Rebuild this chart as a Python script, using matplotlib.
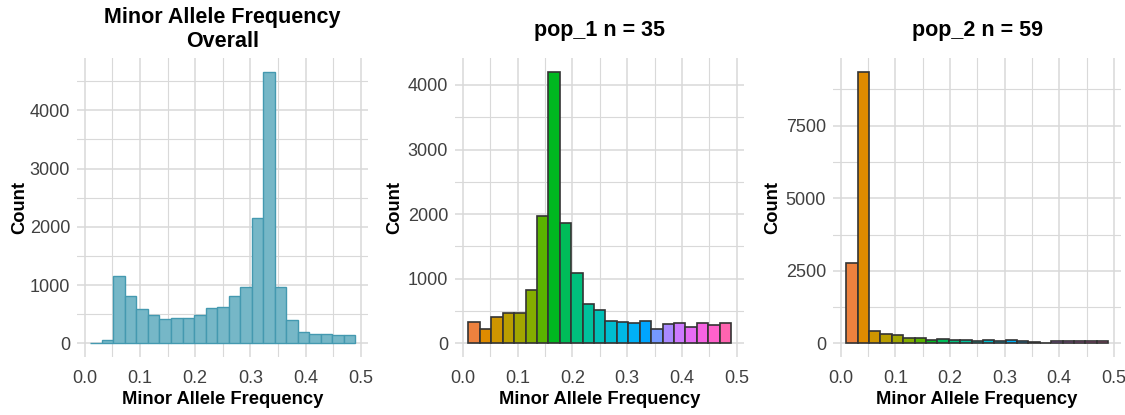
import matplotlib
matplotlib.use("Agg")
import matplotlib.pyplot as plt
import numpy as np

plt.rcParams['font.family'] = ['Liberation Sans', 'DejaVu Sans']

# histogram bins (width 0.5/24), 23 bins starting at 0.0104
bin_width = 0.5 / 24
bin_left = 0.0104 + bin_width * np.arange(23)

overall = [5, 60, 1150, 815, 585, 487, 420, 440, 440, 487, 605, 630, 820,
           963, 2145, 4665, 963, 400, 190, 160, 160, 145, 145]
pop_1 = [336, 217, 408, 465, 465, 827, 1979, 4207, 1871, 1085, 605, 522,
         351, 336, 315, 351, 217, 295, 315, 253, 315, 279, 315]
pop_2 = [2761, 9365, 437, 322, 276, 196, 196, 115, 150, 115, 115, 69, 115,
         69, 115, 69, 46, 25, 69, 69, 69, 69, 69]

titles = ["Minor Allele Frequency\nOverall", "pop_1 n = 35", "pop_2 n = 59"]
x_ticks = [0.0, 0.1, 0.2, 0.3, 0.4, 0.5]


def hcl_hex(h, c=100, l=65):
    # polar Luv -> sRGB (D65), same as R's hcl()
    xn, yn, zn = 95.047, 100.0, 108.883
    un = 4 * xn / (xn + 15 * yn + 3 * zn)
    vn = 9 * yn / (xn + 15 * yn + 3 * zn)
    u = c * np.cos(np.radians(h))
    v = c * np.sin(np.radians(h))
    y = yn * ((l + 16) / 116) ** 3 if l > 8 else yn * l / 903.3
    up = u / (13 * l) + un
    vp = v / (13 * l) + vn
    x = 9.0 * y * up / (4 * vp)
    z = -x / 3 - 5 * y + 3 * y / vp
    xyz = np.array([x, y, z]) / 100
    m = np.array([[3.240479, -1.537150, -0.498535],
                  [-0.969256, 1.875992, 0.041556],
                  [0.055648, -0.204043, 1.057311]])
    rgb = m @ xyz
    rgb = np.where(rgb <= 0.0031308, 12.92 * rgb, 1.055 * np.abs(rgb) ** (1 / 2.4) - 0.055)
    rgb = np.clip(rgb, 0, 1)
    return matplotlib.colors.to_hex(rgb)


hue_colors = [hcl_hex(h) for h in np.linspace(30, 345, 23)]

fig = plt.figure(figsize=(11.25, 4.15), dpi=100)
W, H = 1125, 415
panels = [(77, 368), (455, 744), (833, 1121)]
top, bottom = 58, 357

grid_col = '#D9D9D9'
text_col = '#404040'

for i, (counts, title) in enumerate(zip([overall, pop_1, pop_2], titles)):
    l, r = panels[i]
    ax = fig.add_axes([l / W, 1 - bottom / H, (r - l) / W, (bottom - top) / H])
    if i == 0:
        ax.bar(bin_left, counts, width=bin_width, align='edge',
               color='#76B7C7', edgecolor='#4499B0', linewidth=1.0, zorder=3)
    else:
        ax.bar(bin_left, counts, width=bin_width, align='edge',
               color=hue_colors, edgecolor='#333333', linewidth=1.2, zorder=3)

    ymax = max(counts)
    ax.set_xlim(-0.014, 0.513)
    ax.set_ylim(-0.05 * ymax, 1.05 * ymax)
    ax.set_xticks(x_ticks)
    ax.set_xticklabels([f"{t:.1f}" for t in x_ticks])
    if i == 2:
        yt = [0, 2500, 5000, 7500]
    else:
        yt = [0, 1000, 2000, 3000, 4000]
    ax.set_yticks(yt)
    ax.set_yticklabels([str(t) for t in yt])
    ax.set_xticks(np.arange(0.05, 0.5, 0.1), minor=True)
    step = yt[1] - yt[0]
    ax.set_yticks(np.arange(step / 2, 1.05 * ymax, step), minor=True)

    ax.grid(True, which='major', color=grid_col, linewidth=1.1, zorder=0)
    ax.grid(True, which='minor', color=grid_col, linewidth=0.8, zorder=0)
    for s in ax.spines.values():
        s.set_visible(False)
    ax.tick_params(which='both', length=0)
    ax.tick_params(axis='both', labelsize=13, labelcolor=text_col, pad=5)
    ax.tick_params(axis='x', pad=9)

    ax.set_xlabel("Minor Allele Frequency", fontsize=13.2, fontweight='bold', labelpad=3)
    ax.set_ylabel("Count", fontsize=13.2, fontweight='bold',
                  labelpad=1 if i == 0 else 3)
    ax.set_title(title, fontsize=15.5, fontweight='bold', pad=16 if i else 8,
                 linespacing=1.15)

fig.savefig("out.png", dpi=100)
